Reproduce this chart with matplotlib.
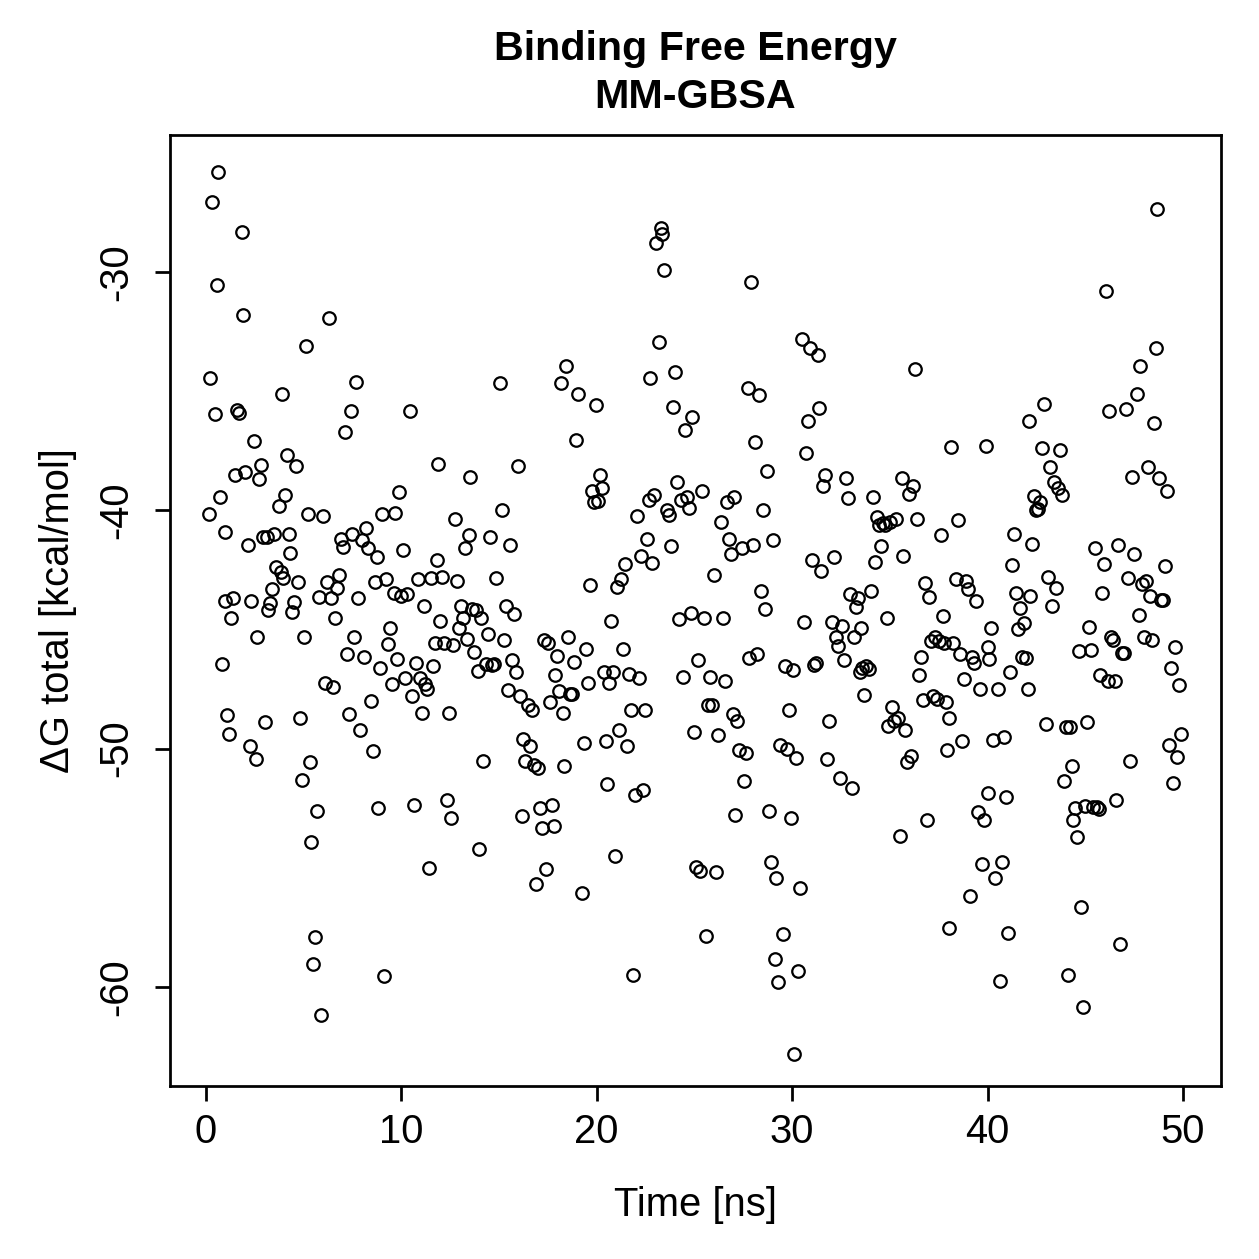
import matplotlib
matplotlib.use("Agg")
import matplotlib.pyplot as plt
import numpy as np

time_ns = [
0.15,0.2,0.3,0.45,0.55,0.6,0.7,0.8,1.0,1.0,1.1,1.2,1.3,1.4,1.5,1.6,1.7,1.85,1.9,2.0,
2.15,2.25,2.3,2.45,2.55,2.6,2.7,2.8,2.9,3.0,3.1,3.2,3.3,3.4,3.5,3.6,3.75,3.85,3.9,3.95,
4.05,4.15,4.25,4.3,4.4,4.5,4.6,4.7,4.8,4.9,5.0,5.1,5.2,5.3,5.4,5.5,5.6,5.7,5.8,5.9,
6.0,6.1,6.2,6.3,6.4,6.5,6.6,6.7,6.8,6.9,7.0,7.1,7.2,7.3,7.4,7.5,7.6,7.7,7.8,7.9,
8.0,8.1,8.2,8.3,8.45,8.55,8.65,8.75,8.8,8.9,9.0,9.1,9.2,9.3,9.4,9.5,9.6,9.7,9.8,9.9,
10.0,10.1,10.2,10.3,10.45,10.55,10.65,10.75,10.85,10.95,11.05,11.15,11.2,11.3,11.4,11.5,11.6,11.7,11.8,11.9,
12.0,12.1,12.2,12.35,12.45,12.55,12.65,12.75,12.85,12.95,13.05,13.15,13.25,13.35,13.45,13.5,13.6,13.7,13.8,13.9,
14.0,14.1,14.2,14.35,14.45,14.55,14.65,14.75,14.85,15.05,15.15,15.25,15.35,15.45,15.55,15.65,15.75,15.85,15.95,
16.05,16.15,16.25,16.35,16.5,16.6,16.7,16.8,16.9,17.0,17.1,17.2,17.3,17.4,17.5,17.6,17.7,17.8,17.85,17.95,
18.05,18.15,18.25,18.35,18.45,18.55,18.65,18.75,18.85,18.95,19.05,19.25,19.35,19.45,19.55,19.65,19.75,19.85,19.95,
20.05,20.15,20.25,20.35,20.45,20.55,20.65,20.75,20.85,20.95,21.05,21.15,21.25,21.35,21.45,21.55,21.65,21.75,21.85,21.95,
22.05,22.15,22.25,22.35,22.45,22.55,22.65,22.75,22.85,22.95,23.05,23.2,23.3,23.35,23.45,23.6,23.7,23.8,23.9,
24.0,24.1,24.2,24.3,24.4,24.5,24.6,24.7,24.8,24.9,25.0,25.1,25.2,25.3,25.4,25.5,25.6,25.7,25.8,25.9,
26.0,26.1,26.2,26.35,26.45,26.55,26.65,26.75,26.85,26.95,27.0,27.1,27.2,27.3,27.45,27.55,27.65,27.75,27.8,27.9,
28.0,28.1,28.2,28.3,28.4,28.5,28.6,28.7,28.8,28.9,29.0,29.1,29.2,29.3,29.4,29.55,29.65,29.75,29.85,29.95,
30.05,30.1,30.2,30.3,30.4,30.5,30.6,30.7,30.8,30.9,31.0,31.1,31.2,31.3,31.4,31.5,31.6,31.7,31.8,31.9,
32.05,32.15,32.25,32.35,32.45,32.55,32.65,32.75,32.85,32.95,33.05,33.15,33.25,33.35,33.45,33.55,33.6,33.7,33.8,33.95,
34.05,34.15,34.25,34.35,34.45,34.55,34.65,34.75,34.85,34.9,35.0,35.1,35.2,35.3,35.4,35.5,35.6,35.7,35.8,35.9,
36.0,36.1,36.2,36.3,36.4,36.5,36.6,36.7,36.8,36.9,37.0,37.1,37.2,37.3,37.4,37.5,37.6,37.7,37.75,37.85,37.95,
38.05,38.05,38.15,38.25,38.4,38.5,38.6,38.7,38.8,38.9,39.0,39.1,39.2,39.3,39.4,39.5,39.6,39.7,39.8,39.9,
40.0,40.0,40.1,40.2,40.3,40.4,40.55,40.65,40.75,40.85,40.95,41.05,41.15,41.25,41.35,41.45,41.55,41.65,41.75,41.85,41.95,
42.05,42.1,42.2,42.3,42.4,42.5,42.6,42.7,42.8,42.9,43.0,43.1,43.2,43.3,43.4,43.5,43.6,43.7,43.8,43.9,
44.0,44.1,44.2,44.3,44.4,44.5,44.6,44.7,44.8,44.9,45.0,45.1,45.2,45.3,45.4,45.5,45.6,45.7,45.75,45.85,45.95,
46.05,46.15,46.2,46.3,46.4,46.5,46.6,46.7,46.8,46.9,47.0,47.1,47.2,47.3,47.4,47.5,47.65,47.75,47.8,47.9,
48.0,48.1,48.2,48.3,48.4,48.5,48.6,48.7,48.8,48.9,49.0,49.1,49.2,49.3,49.4,49.5,49.6,49.7,49.8,49.9,
]

dg_total = [
-40.15,-34.45,-27.05,-35.95,-30.55,-25.8,-39.45,-46.45,-40.9,-43.8,-48.6,-49.4,-44.5,-43.7,-38.5,-35.8,-35.9,-28.3,-31.8,-38.4,
-41.45,-49.9,-43.8,-37.1,-50.45,-45.3,-38.7,-38.1,-41.1,-48.9,-41.1,-44.2,-43.9,-43.3,-41.0,-42.4,-39.8,-42.6,-35.1,-42.85,
-39.35,-37.7,-41.0,-41.8,-44.25,-43.85,-38.15,-43.0,-48.7,-51.3,-45.3,-33.1,-40.15,-50.55,-53.9,-59.05,-57.9,-52.6,-43.65,-61.2,
-40.25,-47.25,-43.0,-31.95,-43.7,-47.4,-44.5,-43.25,-42.7,-41.2,-41.55,-36.7,-46.05,-48.55,-35.85,-41.0,-45.3,-34.6,-43.7,-49.2,
-41.25,-46.15,-40.75,-41.6,-48.0,-50.1,-43.0,-41.95,-52.5,-46.6,-40.15,-59.55,-42.9,-45.6,-44.95,-47.3,-43.45,-40.1,-46.25,-39.25,
-43.6,-41.65,-47.05,-43.5,-35.85,-47.8,-52.35,-46.4,-42.9,-47.05,-48.5,-44.0,-47.3,-47.5,-55.0,-42.85,-46.55,-45.55,-42.1,-38.05,
-44.65,-42.8,-45.55,-52.15,-48.5,-52.9,-45.65,-40.35,-42.95,-44.95,-44.0,-44.5,-41.6,-45.4,-41.05,-38.6,-44.15,-45.95,-44.2,-46.75,
-54.2,-44.5,-50.5,-46.45,-45.2,-41.1,-46.5,-46.45,-42.85,-34.65,-40.0,-45.45,-44.0,-47.55,-41.45,-46.3,-44.35,-46.8,-38.15,
-47.8,-52.85,-49.6,-50.5,-48.15,-49.9,-48.4,-50.7,-55.7,-50.8,-52.5,-53.35,-45.45,-55.05,-45.55,-48.05,-52.35,-53.25,-46.9,-46.1,
-47.6,-34.65,-48.5,-50.75,-33.95,-45.3,-47.7,-47.7,-46.35,-37.05,-35.1,-56.05,-49.75,-45.8,-47.25,-43.15,-39.2,-39.65,-35.6,
-39.6,-38.5,-39.05,-46.8,-49.7,-51.5,-47.25,-44.65,-46.8,-54.5,-43.2,-49.2,-42.9,-45.8,-42.25,-49.9,-46.85,-48.4,-59.5,-51.95,
-40.25,-47.05,-41.9,-51.75,-48.4,-41.2,-39.55,-34.45,-42.2,-39.35,-28.8,-32.95,-28.15,-28.4,-29.9,-40.0,-40.2,-41.5,-35.65,
-34.2,-38.8,-44.55,-39.55,-47.0,-36.65,-39.45,-39.9,-44.3,-36.1,-49.3,-54.95,-46.3,-55.15,-39.2,-44.5,-57.85,-48.15,-47.0,-48.15,
-42.7,-55.2,-49.45,-40.5,-44.5,-47.15,-39.65,-41.2,-41.85,-48.55,-39.45,-52.8,-48.85,-50.05,-41.6,-51.35,-50.2,-34.85,-46.2,-30.4,
-41.45,-37.15,-46.05,-35.15,-43.4,-40.0,-44.15,-38.35,-52.6,-54.75,-41.25,-58.85,-55.45,-59.8,-49.85,-57.8,-46.55,-50.0,-48.4,-52.9,
-46.7,-62.8,-50.4,-59.35,-55.85,-32.8,-44.7,-37.6,-36.25,-33.2,-42.1,-46.5,-46.4,-33.5,-35.7,-42.55,-39.0,-38.5,-50.45,-48.85,
-44.7,-41.95,-45.3,-45.7,-51.25,-44.85,-46.3,-38.65,-39.5,-43.5,-51.65,-45.3,-44.05,-43.7,-46.8,-44.95,-46.6,-47.75,-46.55,-46.65,
-43.4,-39.45,-42.15,-40.3,-40.6,-41.5,-40.55,-40.6,-44.5,-49.05,-40.5,-48.25,-48.85,-40.35,-48.7,-53.65,-38.65,-41.9,-49.2,-50.55,
-39.3,-50.3,-39.0,-34.05,-40.35,-46.9,-46.15,-47.95,-43.05,-53.0,-43.65,-45.5,-47.8,-45.3,-47.9,-45.5,-41.05,-44.45,-45.55,-48.05,-50.05,
-48.7,-57.55,-37.35,-45.55,-42.9,-40.4,-46.05,-49.7,-47.1,-42.95,-43.3,-56.2,-46.15,-46.4,-43.8,-52.65,-47.5,-54.85,-53.0,-37.3,
-51.85,-45.75,-46.25,-44.95,-49.65,-55.45,-47.5,-59.75,-54.75,-49.5,-52.05,-57.75,-46.8,-42.3,-41.0,-43.45,-45.0,-44.1,-46.15,-44.75,-46.2,
-47.5,-36.25,-43.6,-41.4,-39.4,-40.0,-39.95,-39.65,-37.4,-35.55,-48.95,-42.8,-38.2,-44.0,-38.8,-43.25,-39.05,-37.45,-39.35,-51.35,
-49.1,-59.5,-49.1,-50.75,-53.0,-52.5,-53.7,-45.9,-56.65,-60.85,-52.4,-48.9,-44.9,-45.85,-52.45,-41.6,-52.45,-52.55,-46.9,-43.45,-42.25,
-30.8,-47.15,-35.85,-45.3,-45.45,-47.15,-52.15,-41.45,-58.2,-46.0,-46.0,-35.75,-42.85,-50.5,-38.6,-41.85,-35.1,-44.4,-33.95,-43.1,
-45.3,-42.95,-38.2,-43.6,-45.45,-36.35,-33.2,-27.35,-38.65,-43.75,-43.75,-42.35,-39.2,-49.85,-46.6,-51.45,-45.75,-50.35,-47.35,-49.4,
]

x_ticks = [0, 10, 20, 30, 40, 50]
y_ticks = [-60, -50, -40, -30]

plt.rcParams['font.family'] = ['Liberation Sans', 'DejaVu Sans']

W = 1259
dpi = 179.857
fig = plt.figure(figsize=(W / dpi, W / dpi), dpi=dpi)
ax = fig.add_axes([170 / W, 1 - 1086 / W, (1221 - 170) / W, (1086 - 135) / W])

ax.plot(time_ns, dg_total, linestyle='none', marker='o', markersize=5.0,
        markerfacecolor='none', markeredgecolor='black', markeredgewidth=0.9)

ax.set_xlim(-1.84, 51.95)
ax.set_ylim(-64.16, -24.25)
ax.set_xticks(x_ticks)
ax.set_yticks(y_ticks)
ax.set_xticklabels([str(t) for t in x_ticks])
ax.set_yticklabels([str(t) for t in y_ticks], rotation=90, va='center')
for s in ax.spines.values():
    s.set_linewidth(1.1)
ax.tick_params(direction='out', length=6, width=1.1, labelsize=16)
ax.tick_params(axis='x', pad=5)
ax.tick_params(axis='y', pad=8)

ax.set_xlabel('Time [ns]', fontsize=16, labelpad=14)
ax.set_ylabel('ΔG total [kcal/mol]', fontsize=16, labelpad=8)
ax.set_title('Binding Free Energy\nMM-GBSA', fontsize=16.5, fontweight='bold', pad=11, linespacing=1.32)

fig.savefig('out.png', dpi=dpi)
